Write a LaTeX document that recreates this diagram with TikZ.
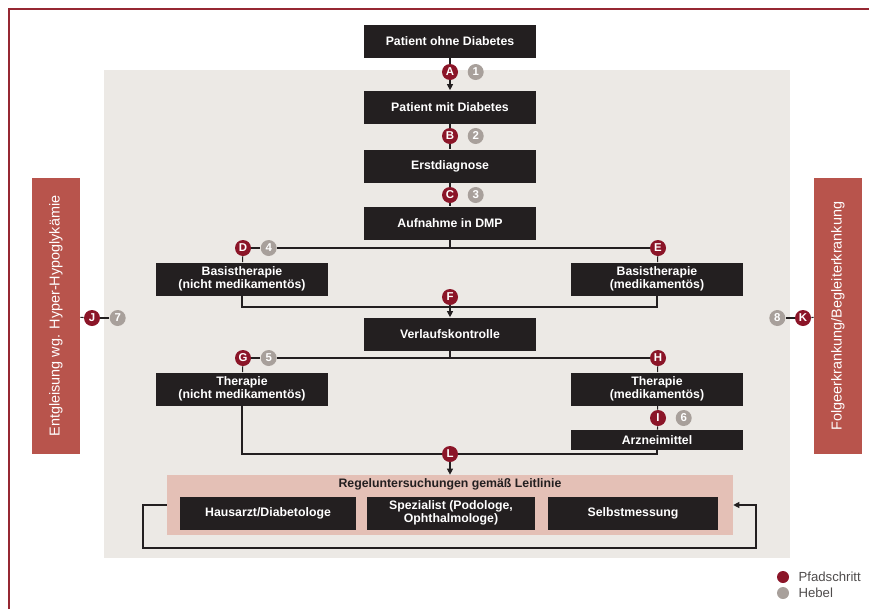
\documentclass[tikz,border=0pt]{standalone}
\usepackage{fontspec}
\setmainfont{Liberation Sans}
\usepackage{tikz}
\usetikzlibrary{arrows.meta, positioning}
\definecolor{boxblack}{RGB}{35,31,32}
\definecolor{stepred}{RGB}{139,21,40}
\definecolor{levergray}{RGB}{168,160,155}
\definecolor{panelred}{RGB}{184,84,76}
\definecolor{bggray}{RGB}{236,233,229}
\definecolor{pinkpanel}{RGB}{228,192,182}
\definecolor{framered}{RGB}{150,40,50}

\begin{document}
\begin{tikzpicture}[
    x=0.02cm, y=-0.02cm,
    box/.style={rectangle, fill=boxblack, text=white, minimum width=3.46cm, minimum height=0.66cm, align=center, inner sep=1pt, font=\fontsize{7}{7.6}\selectfont\bfseries},
    stepdot/.style={circle, fill=stepred, text=white, minimum size=0.32cm, inner sep=0pt, font=\fontsize{6.5}{7}\selectfont\bfseries},
    leverdot/.style={circle, fill=levergray, text=white, minimum size=0.32cm, inner sep=0pt, font=\fontsize{6.5}{7}\selectfont\bfseries},
    sidepanel/.style={rectangle, fill=panelred, text=white, rotate=90, minimum width=5.54cm, minimum height=0.96cm, font=\fontsize{8.2}{9}\selectfont},
    line/.style={draw=boxblack, line width=0.6pt},
    arrow/.style={line, -{Triangle[length=3.5pt, width=3.5pt]}}
]
\useasboundingbox (0,0) rectangle (869,609);

% background
\fill[bggray] (104,70) rectangle (790,558);
\draw[framered, line width=0.8pt] (9,609) -- (9,9) -- (869,9);

% main column
\node[box] (ohne) at (450,41) {Patient ohne Diabetes};
\node[box] (mit) at (450,107) {Patient mit Diabetes};
\node[box] (erst) at (450,166) {Erstdiagnose};
\node[box] (dmp) at (450,223) {Aufnahme in DMP};
\node[box, minimum width=3.44cm] (basisL) at (242,279) {Basistherapie\\(nicht medikamentös)};
\node[box, minimum width=3.44cm] (basisR) at (657,279) {Basistherapie\\(medikamentös)};
\node[box] (verlauf) at (450,334) {Verlaufskontrolle};
\node[box, minimum width=3.44cm] (therL) at (242,389) {Therapie\\(nicht medikamentös)};
\node[box, minimum width=3.44cm] (therR) at (657,389) {Therapie\\(medikamentös)};
\node[box, minimum width=3.44cm, minimum height=0.4cm] (arznei) at (657,440) {Arzneimittel};

% Regeluntersuchungen
\node[rectangle, fill=pinkpanel, minimum width=11.32cm, minimum height=1.2cm] (regel) at (450,505) {};
\node[font=\fontsize{7}{8}\selectfont\bfseries, text=boxblack] (regeltitle) at (450,484) {Regeluntersuchungen gemäß Leitlinie};
\node[box, minimum width=3.52cm] (haus) at (268,513) {Hausarzt/Diabetologe};
\node[box, minimum width=3.38cm] (spez) at (451,513) {Spezialist (Podologe,\\Ophthalmologe)};
\node[box, minimum width=3.4cm] (selbst) at (633,513) {Selbstmessung};

% side panels
\node[sidepanel] (entgleisung) at (56,316) {Entgleisung wg. Hyper-Hypoglykämie};
\node[sidepanel] (folge) at (838,316) {Folgeerkrankung/Begleiterkrankung};

% steps and levers
\node[stepdot] (A) at (450,72) {A};
\node[leverdot, right=0.18cm of A] (n1) {1};
\node[stepdot] (B) at (450,136) {B};
\node[leverdot, right=0.18cm of B] (n2) {2};
\node[stepdot] (C) at (450,195) {C};
\node[leverdot, right=0.18cm of C] (n3) {3};
\node[stepdot] (D) at (243,248) {D};
\node[leverdot, right=0.18cm of D] (n4) {4};
\node[stepdot] (E) at (658,248) {E};
\node[stepdot] (F) at (450,297) {F};
\node[stepdot] (G) at (243,358) {G};
\node[leverdot, right=0.18cm of G] (n5) {5};
\node[stepdot] (H) at (658,358) {H};
\node[stepdot] (I) at (658,418) {I};
\node[leverdot, right=0.18cm of I] (n6) {6};
\node[stepdot] (J) at (92,318) {J};
\node[leverdot, right=0.18cm of J] (n7) {7};
\node[stepdot] (K) at (803,318) {K};
\node[leverdot, left=0.18cm of K] (n8) {8};
\node[stepdot] (L) at (450,454) {L};

\coordinate (split1) at (450,248);
\coordinate (join1) at (450,307);
\coordinate (split2) at (450,358);
\coordinate (loopa) at (143,548);
\coordinate (loopb) at (756,548);

% connectors
\draw[line] (ohne) -- (A);
\draw[arrow] (A) -- (mit);
\draw[line] (mit) -- (B);
\draw[line] (B) -- (erst);
\draw[line] (erst) -- (C);
\draw[line] (C) -- (dmp);
\draw[line] (dmp) -- (split1);
\draw[line] (D) -- (n4);
\draw[line] (n4) -- (E);
\draw[line] (D) -- (basisL);
\draw[line] (E) -- (basisR);
\draw[line] (basisL) |- (join1);
\draw[line] (basisR) |- (join1);
\draw[arrow] (F) -- (verlauf);
\draw[line] (verlauf) -- (split2);
\draw[line] (G) -- (n5);
\draw[line] (n5) -- (H);
\draw[line] (G) -- (therL);
\draw[line] (H) -- (therR);
\draw[line] (therR) -- (I);
\draw[line] (I) -- (arznei);
\draw[line] (therL) |- (L);
\draw[line] (arznei) |- (L);
\draw[arrow] (L) -- (regel);
\draw[arrow] (regel.west) -| (loopa) -- (loopb) |- (regel.east);
\draw[line] (entgleisung) -- (J);
\draw[line] (J) -- (n7);
\draw[line] (folge) -- (K);
\draw[line] (K) -- (n8);

% legend
\node[circle, fill=stepred, minimum size=0.24cm, inner sep=0pt] (legstep) at (783,577) {};
\node[right=0.06cm of legstep, font=\fontsize{7.5}{8}\selectfont, text=boxblack!80] (legsteptext) {Pfadschritt};
\node[circle, fill=levergray, minimum size=0.24cm, inner sep=0pt] (leglever) at (783,593) {};
\node[right=0.06cm of leglever, font=\fontsize{7.5}{8}\selectfont, text=boxblack!80] (leglevertext) {Hebel};
\end{tikzpicture}
\end{document}
